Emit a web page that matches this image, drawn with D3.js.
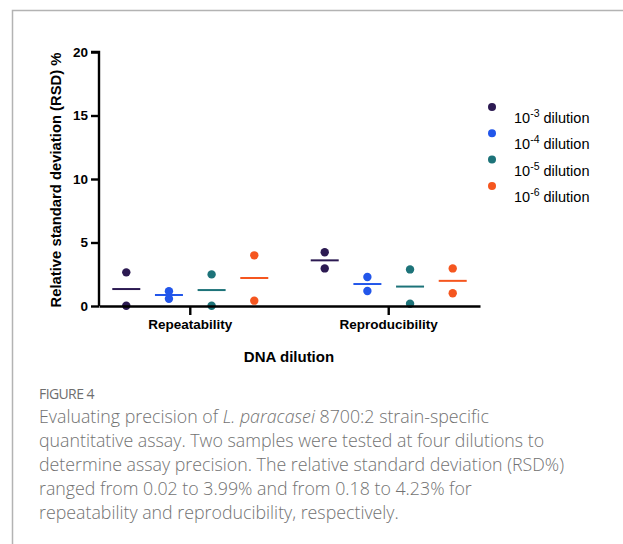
<!DOCTYPE html>
<html>
<head>
<meta charset="utf-8">
<script src="https://cdn.jsdelivr.net/npm/d3@7"></script>
<style>
  body { margin: 0; background: #fff; }
  svg { display: block; }
</style>
</head>
<body>
<div id="chart"></div>
<script>
const groups = ['Repeatability', 'Reproducibility'];
const dilutions = ['-3', '-4', '-5', '-6'];
const colors = ['#2c1a52', '#2256ea', '#1d7379', '#f5561f'];
// two samples per dilution, per group
const repeatability = [[2.65, 0.02], [1.16, 0.57], [2.49, 0.02], [3.99, 0.42]];
const reproducibility = [[4.23, 2.96], [2.28, 1.18], [2.88, 0.18], [2.96, 1.0]];
const yTicks = [0, 5, 10, 15, 20];
const captionLines = [
  ['Evaluating precision of ', {i: 'L. paracasei'}, ' 8700:2 strain-specific'],
  ['quantitative assay. Two samples were tested at four dilutions to'],
  ['determine assay precision. The relative standard deviation (RSD%)'],
  ['ranged from 0.02 to 3.99% and from 0.18 to 4.23% for'],
  ['repeatability and reproducibility, respectively.']
];

const W = 623, H = 544;
const margin = {top: 52, left: 99};
const width = 381, height = 254;

const svg = d3.select('#chart').append('svg')
  .attr('width', W).attr('height', H);

// frame
svg.append('path')
  .attr('d', 'M12.5,' + H + 'V10.5H' + W)
  .attr('fill', 'none').attr('stroke', '#b3b3b3').attr('stroke-width', 1.5);

const g = svg.append('g')
  .attr('transform', 'translate(' + margin.left + ',' + margin.top + ')');

const x = d3.scaleBand().domain(groups).range([0, width])
  .paddingInner(0.14).paddingOuter(0.03);
const xs = d3.scaleBand().domain(dilutions).range([0, x.bandwidth()]);
const y = d3.scaleLinear().domain([0, 20]).range([height, 0]);

const data = [];
groups.forEach(function(gr, gi) {
  const src = gi === 0 ? repeatability : reproducibility;
  dilutions.forEach(function(d, di) {
    data.push({group: gr, dil: d, color: colors[di], vals: src[di], mean: d3.mean(src[di])});
  });
});
const cx = d => x(d.group) + xs(d.dil) + xs.bandwidth() / 2;

// mean lines
g.selectAll('.mean').data(data).enter().append('line')
  .attr('class', 'mean')
  .attr('x1', d => cx(d) - 14).attr('x2', d => cx(d) + 14)
  .attr('y1', d => y(d.mean)).attr('y2', d => y(d.mean))
  .attr('stroke', d => d.color).attr('stroke-width', 2);

// points
data.forEach(function(d) {
  g.selectAll(null).data(d.vals).enter().append('circle')
    .attr('cx', cx(d)).attr('cy', v => y(v))
    .attr('r', 4.2).attr('fill', d.color);
});

// axes
const yAxis = g.append('g')
  .call(d3.axisLeft(y).tickValues(yTicks).tickSize(8).tickPadding(3));
const xAxis = g.append('g')
  .attr('transform', 'translate(0,' + height + ')')
  .call(d3.axisBottom(x).tickSize(9).tickPadding(4).tickSizeOuter(0));
[yAxis, xAxis].forEach(function(a) {
  a.select('.domain').attr('stroke', '#000').attr('stroke-width', 2.4);
  a.selectAll('.tick line').attr('stroke', '#000').attr('stroke-width', 2.4);
  a.selectAll('.tick text')
    .attr('fill', '#000')
    .style('font', 'bold 13.5px "Liberation Sans", Arial, sans-serif');
});
yAxis.select('.domain').attr('d', 'M0,' + height + 'V0H-8');

// axis titles
svg.append('text')
  .attr('transform', 'translate(61,' + (margin.top + height / 2 + 1) + ') rotate(-90)')
  .attr('text-anchor', 'middle')
  .style('font', 'bold 14.8px "Liberation Sans", Arial, sans-serif')
  .text('Relative standard deviation (RSD) %');
svg.append('text')
  .attr('x', 289).attr('y', 362)
  .attr('text-anchor', 'middle')
  .style('font', 'bold 15px "Liberation Sans", Arial, sans-serif')
  .text('DNA dilution');

// legend
const legend = svg.append('g').attr('transform', 'translate(492,107)');
const li = legend.selectAll('g').data(dilutions).enter().append('g')
  .attr('transform', (d, i) => 'translate(0,' + i * 26.3 + ')');
li.append('circle').attr('r', 4).attr('fill', (d, i) => colors[i]);
const lt = li.append('text').attr('x', 22).attr('y', 16)
  .style('font', '14.5px "Liberation Sans", Arial, sans-serif');
lt.append('tspan').text('10');
lt.append('tspan').attr('dy', -6).style('font-size', '10.5px').text(d => d);
lt.append('tspan').attr('dy', 6).text(' dilution');

// caption
svg.append('text')
  .attr('x', 39).attr('y', 399)
  .attr('fill', '#6e6e6e')
  .style('font', '14px "Open Sans", sans-serif')
  .style('letter-spacing', '-0.6px')
  .text('FIGURE 4');
const cap = svg.append('g')
  .style('font', '300 17.8px "Open Sans", sans-serif')
  .attr('fill', '#727272');
captionLines.forEach(function(parts, i) {
  const t = cap.append('text').attr('x', 39).attr('y', 423 + i * 24);
  parts.forEach(function(p) {
    if (typeof p === 'string') t.append('tspan').text(p);
    else t.append('tspan').style('font-style', 'italic').text(p.i);
  });
});
</script>
</body>
</html>
